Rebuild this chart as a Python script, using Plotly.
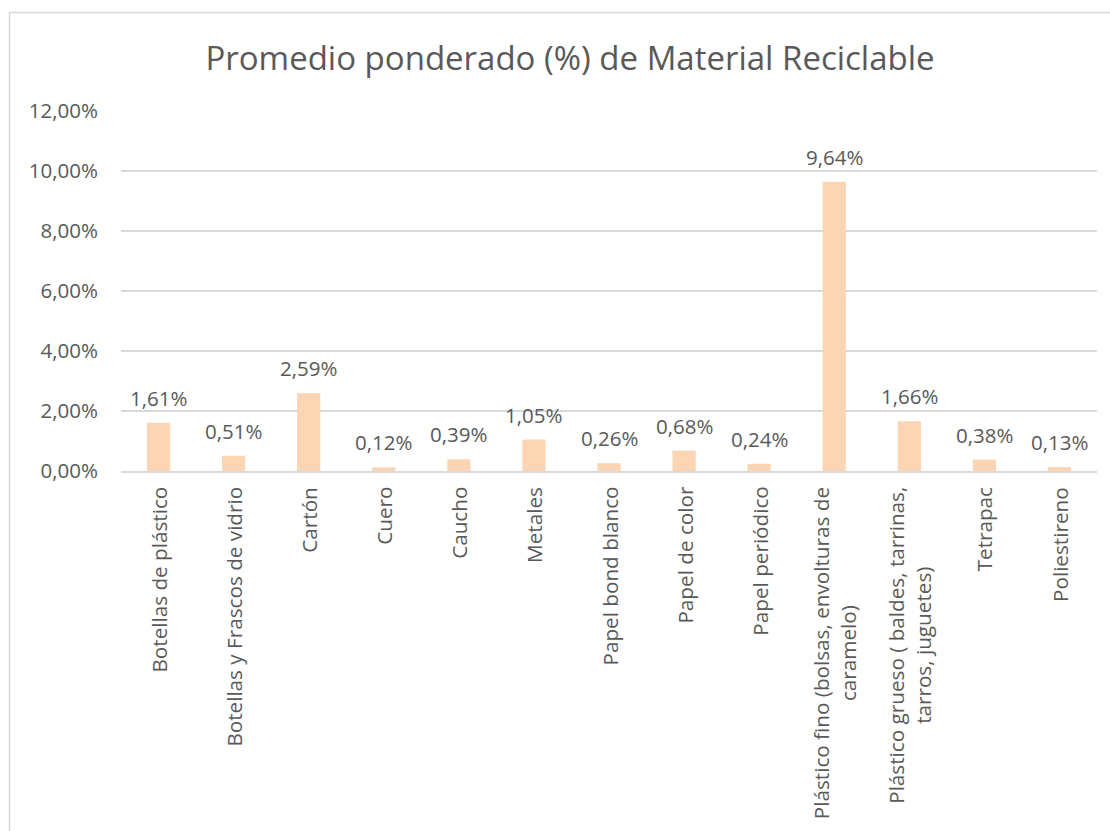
import plotly.graph_objects as go

# Categorías de material reciclable (saltos de línea como en la etiqueta original)
categorias = [
    "Botellas de plástico",
    "Botellas y Frascos de vidrio",
    "Cartón",
    "Cuero",
    "Caucho",
    "Metales",
    "Papel bond blanco",
    "Papel de color",
    "Papel periódico",
    "Plástico fino (bolsas, envolturas de<br>caramelo)",
    "Plástico grueso ( baldes, tarrinas,<br>tarros, juguetes)",
    "Tetrapac",
    "Poliestireno",
]

# Promedio ponderado en porcentaje
porcentajes = [1.61, 0.51, 2.59, 0.12, 0.39, 1.05, 0.26, 0.68, 0.24, 9.64, 1.66, 0.38, 0.13]

# Marcas del eje Y (%)
ticks_y = [0, 2, 4, 6, 8, 10, 12]

FUENTE = "Open Sans"
GRIS_TEXTO = "#595959"
GRIS_LINEA = "#D9D9D9"
COLOR_BARRA = "#FBD5B4"

W, H = 1110, 831
ML, MR, MT, MB = 121, 13, 111, 360
plot_w = W - ML - MR
plot_h = H - MT - MB


def fmt(v):
    return f"{v:.2f}".replace(".", ",") + "%"


fig = go.Figure()
fig.add_trace(go.Bar(
    x=categorias,
    y=porcentajes,
    marker=dict(color=COLOR_BARRA, line=dict(width=0)),
    hoverinfo="skip",
))

anotaciones = []
# Etiquetas de valor sobre cada barra
for c, v in zip(categorias, porcentajes):
    anotaciones.append(dict(
        x=c, y=v, xref="x", yref="y", text=fmt(v), showarrow=False,
        xanchor="center", yanchor="middle", yshift=25,
        font=dict(family=FUENTE, size=20.5, color=GRIS_TEXTO),
    ))
# Etiquetas de categoría giradas bajo el eje
for c in categorias:
    anotaciones.append(dict(
        x=c, y=0, xref="x", yref="paper", text=c, showarrow=False,
        textangle=-90, align="center",
        xanchor="center", yanchor="top", yshift=-14,
        font=dict(family=FUENTE, size=20.7, color=GRIS_TEXTO),
    ))

# Borde del área del gráfico
bx0 = (9.5 - ML) / plot_w
bx1 = (1112 - ML) / plot_w
by1 = (H - MB - 12.5) / plot_h
by0 = (H - MB - 840) / plot_h

fig.update_layout(
    width=W, height=H,
    margin=dict(l=ML, r=MR, t=MT, b=MB),
    paper_bgcolor="white",
    plot_bgcolor="white",
    showlegend=False,
    bargap=0.69,
    title=dict(
        text="Promedio ponderado (%) de Material Reciclable",
        x=570 / W, xanchor="center",
        y=1 - 58 / H, yanchor="middle",
        xref="container", yref="container",
        font=dict(family=FUENTE, size=33, color=GRIS_TEXTO),
    ),
    xaxis=dict(
        type="category",
        showticklabels=False,
        showgrid=False,
        ticks="",
        showline=True, linecolor=GRIS_LINEA, linewidth=1.5,
        zeroline=False,
    ),
    yaxis=dict(
        range=[0, 12],
        tickmode="array",
        tickvals=ticks_y,
        ticktext=[fmt(v) for v in ticks_y],
        showgrid=True, gridcolor=GRIS_LINEA, gridwidth=1.5,
        zeroline=False,
        showline=False,
        ticks="",
        ticklabelstandoff=22,
        tickfont=dict(family=FUENTE, size=20.5, color=GRIS_TEXTO),
    ),
    annotations=anotaciones,
    shapes=[dict(
        type="rect", xref="paper", yref="paper",
        x0=bx0, x1=bx1, y0=by0, y1=by1,
        line=dict(color=GRIS_LINEA, width=1.5),
        fillcolor="rgba(0,0,0,0)", layer="below",
    )],
)

fig.write_html("out.html")
